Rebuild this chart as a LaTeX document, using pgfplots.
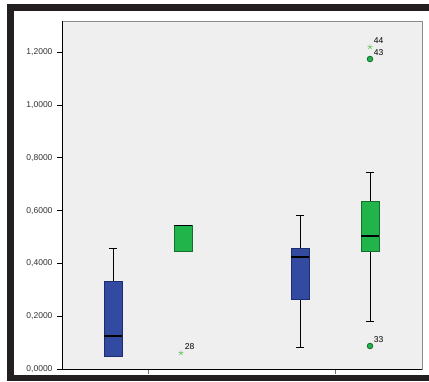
\documentclass[border=0pt]{standalone}
\usepackage{fontspec}
\setmainfont{Liberation Sans}
\usepackage{pgfplots}
\pgfplotsset{compat=1.18}
\definecolor{bgc}{RGB}{239,239,239}
\definecolor{boxblue}{RGB}{50,75,160}
\definecolor{boxblueD}{RGB}{30,45,110}
\definecolor{boxgreen}{RGB}{33,180,75}
\definecolor{boxgreenD}{RGB}{20,110,45}
\definecolor{stargreen}{RGB}{120,200,120}
\definecolor{framec}{RGB}{35,31,32}
\begin{document}
\begin{tikzpicture}
\useasboundingbox (0pt,0pt) rectangle (429pt,381pt);
\fill[white] (0pt,0pt) rectangle (429pt,381pt);
\fill[framec] (7pt,0pt) rectangle (14pt,377pt);
\fill[framec] (7pt,370pt) rectangle (429pt,377pt);
\fill[framec] (7pt,0pt) rectangle (429pt,6pt);
\begin{axis}[
  at={(62pt,12pt)}, anchor=south west,
  width=360pt, height=348pt, scale only axis,
  xmin=0.54, xmax=2.465, ymin=0, ymax=1.318,
  axis background/.style={fill=bgc},
  axis line style={draw=black!45, line width=0.8pt},
  xtick={1,2}, xticklabels={}, xtick pos=bottom,
  ytick={0,0.2,0.4,0.6,0.8,1.0,1.2}, ytick pos=left,
  tick align=outside, major tick length=5pt,
  xtick style={draw=black!55, line width=0.8pt},
  ytick style={draw=black, line width=0.8pt},
  yticklabel style={font=\fontsize{8.5}{10}\selectfont, text=black!80, xshift=-1pt,
    /pgf/number format/.cd, fixed, fixed zerofill, precision=4, use comma, 1000 sep={}, assume math mode=true},
  clip=false,
  whisk/.style={draw=black, line width=0.8pt},
  med/.style={draw=black, line width=1.6pt},
  bbox/.style={fill=boxblue, draw=boxblueD, line width=0.8pt},
  gbox/.style={fill=boxgreen, draw=boxgreenD, line width=0.8pt},
]
\draw[black, line width=0.9pt] (rel axis cs:0,1) -- (rel axis cs:0,0) -- (rel axis cs:1,0);
% ---- whiskers ----
% Group 1 blue: upper whisker 0.458
\addplot[whisk] coordinates {(0.813,0.330) (0.813,0.458)};
\addplot[whisk] coordinates {(0.7915,0.458) (0.8345,0.458)};
% Group 2 blue: 0.083 .. 0.580
\addplot[whisk] coordinates {(1.813,0.083) (1.813,0.580)};
\addplot[whisk] coordinates {(1.7915,0.580) (1.8345,0.580)};
\addplot[whisk] coordinates {(1.7915,0.083) (1.8345,0.083)};
% Group 2 green: 0.182 .. 0.746
\addplot[whisk] coordinates {(2.187,0.182) (2.187,0.746)};
\addplot[whisk] coordinates {(2.1655,0.746) (2.2085,0.746)};
\addplot[whisk] coordinates {(2.1655,0.182) (2.2085,0.182)};
% ---- boxes (lower quartile .. upper quartile) ----
\addplot[bbox] coordinates {(0.765,0.049) (0.861,0.049) (0.861,0.330) (0.765,0.330) (0.765,0.049)};
\addplot[gbox] coordinates {(1.139,0.447) (1.235,0.447) (1.235,0.545) (1.139,0.545) (1.139,0.447)};
\addplot[bbox] coordinates {(1.765,0.265) (1.861,0.265) (1.861,0.458) (1.765,0.458) (1.765,0.265)};
\addplot[gbox] coordinates {(2.139,0.447) (2.235,0.447) (2.235,0.636) (2.139,0.636) (2.139,0.447)};
% ---- medians ----
\addplot[med] coordinates {(0.765,0.125) (0.861,0.125)};
\addplot[med] coordinates {(1.139,0.543) (1.235,0.543)};
\addplot[med] coordinates {(1.765,0.424) (1.861,0.424)};
\addplot[med] coordinates {(2.139,0.504) (2.235,0.504)};
% outliers (circles)
\addplot[only marks, mark=*, mark size=2.8pt, mark options={fill=boxgreen, draw=boxgreenD, line width=0.8pt},
  point meta=explicit symbolic, nodes near coords,
  nodes near coords style={anchor=south west, inner sep=0pt, xshift=3.5pt, yshift=3pt, font=\fontsize{8.5}{10}\selectfont, text=black}]
  coordinates {(2.187,0.087)[33] (2.187,1.174)[43]};
% extremes (stars)
\addplot[only marks, mark=star, mark size=2.6pt, mark options={draw=stargreen, line width=0.7pt},
  point meta=explicit symbolic, nodes near coords,
  nodes near coords style={anchor=south west, inner sep=0pt, xshift=3.5pt, yshift=3pt, font=\fontsize{8.5}{10}\selectfont, text=black}]
  coordinates {(1.176,0.061)[28] (2.187,1.220)[44]};
\end{axis}
\end{tikzpicture}
\end{document}
